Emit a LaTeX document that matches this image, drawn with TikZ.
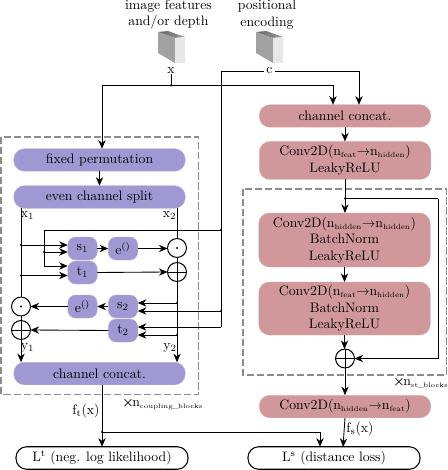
\documentclass[tikz,border=0pt]{standalone}
\usepackage{amsmath}
\usetikzlibrary{arrows.meta}
\definecolor{pur}{RGB}{160,152,210}
\definecolor{pnk}{RGB}{208,152,155}
\newcommand{\sbs}[1]{$_{\mbox{\fontsize{5.6}{6}\selectfont #1}}$}
\newcommand{\sbb}[1]{$_{\mbox{\fontsize{4.9}{6}\selectfont #1}}$}
\newcommand{\sbn}[1]{$_{\mbox{\fontsize{7.2}{7}\selectfont #1}}$}
\newcommand{\sps}[1]{$^{\mbox{\fontsize{7.2}{7}\selectfont #1}}$}
\newcommand{\toarrow}{$\rightarrow$}
\newcommand{\tus}{\kern-0.4pt\_\kern-0.4pt}
\tikzset{
  x=0.75pt,y=-0.75pt,
  every node/.style={font=\fontsize{10.3}{12.5}\selectfont},
  sz/.style 2 args={minimum width=#1*0.75pt,minimum height=#2*0.75pt,inner sep=0pt,outer sep=0pt},
  pill/.style={rectangle,rounded corners=8pt,sz={171.5}{22.5},align=center},
  purp/.style={pill,fill=pur,draw=pur!80!white,line width=0.3pt},
  pink/.style={pill,fill=pnk,draw=pnk!80!white,line width=0.3pt},
  small/.style={rectangle,rounded corners=6pt,fill=pur,draw=pur!80!white,line width=0.3pt,sz={29.5}{23}},
  loss/.style={rectangle,rounded corners=8pt,draw=black,line width=0.8pt,sz={172}{22.5}},
  lbl/.style={inner sep=0pt,outer sep=0pt},
  wire/.style={line width=0.65pt,draw=black},
  arr/.style={wire,-{Stealth[length=6.5pt,width=5.5pt]}},
  dashbox/.style={draw=black!45,line width=1.15pt,dash pattern=on 5.5pt off 2pt},
  jd/.style={circle,fill=black,inner sep=0pt,minimum size=1.8pt,outer sep=0pt},
  opc/.style={circle,draw=black,line width=0.75pt,fill=white,inner sep=0pt,minimum size=14.2pt,outer sep=0pt},
  oplus/.style={opc,path picture={\draw[line width=0.6pt] (path picture bounding box.north)--(path picture bounding box.south) (path picture bounding box.west)--(path picture bounding box.east);}},
  odot/.style={opc,path picture={\fill[black] (path picture bounding box.center) circle (0.9pt);}},
}
\newcommand{\cube}[2]{%
  \shade[left color=black!60,right color=black!40] (#1,#2) -- (#1+10,#2-1) -- (#1+27,#2+5) -- (#1+17,#2+6) -- cycle;
  \fill[black!37] (#1,#2) -- (#1+17,#2+6) -- (#1+17,#2+31) -- (#1,#2+21) -- cycle;
  \fill[black!9] (#1+17,#2+6) -- (#1+27,#2+5) -- (#1+27,#2+31) -- (#1+17,#2+31) -- cycle;
}
\begin{document}
\begin{tikzpicture}
\useasboundingbox (0,0) rectangle (447,470);
% dashed frames
\draw[dashbox] (1,137) rectangle (198.5,394.5);
\draw[dashbox] (243,189) rectangle (446.5,375);
% inputs
\node[lbl,align=center] (imf) at (168.5,14.5) {image features\\and/or depth};
\node[lbl,align=center] (pos) at (267,14.5) {positional\\encoding};
\cube{158}{32}
\cube{256}{32}
\node[lbl] (xin) at (171,71) {x};
\node[lbl] (cin) at (269.5,71) {c};
% purple blocks
\node[purp] (perm) at (99.5,160) {fixed permutation};
\node[purp] (split) at (99.5,197) {even channel split};
\node[purp] (cc1) at (99.5,373.5) {channel concat.};
\node[small] (s1) at (82.5,248.5) {s\sbn{1}};
\node[small] (t1) at (82.5,272.5) {t\sbn{1}};
\node[small] (e1) at (123,248.5) {e\sps{()}};
\node[small] (e2) at (82.5,306.5) {e\sps{()}};
\node[small] (s2) at (123,306.5) {s\sbn{2}};
\node[small] (t2) at (123,330.5) {t\sbn{2}};
\node[odot] (od1) at (177,248) {};
\node[oplus] (op1) at (177,272) {};
\node[odot] (od2) at (21,306.5) {};
\node[oplus] (op2) at (21,330) {};
% pink blocks
\node[pink] (cc2) at (345,116) {channel concat.};
\node[pink,sz={171.5}{38}] (cv1) at (345,160.5) {Conv2D(n\sbs{feat}\toarrow n\sbs{hidden})\\LeakyReLU};
\node[pink,sz={171.5}{54}] (cv2) at (344.5,240) {Conv2D(n\sbs{hidden}\toarrow n\sbs{hidden})\\BatchNorm\\LeakyReLU};
\node[pink,sz={171.5}{53}] (cv3) at (344.5,308.5) {Conv2D(n\sbs{feat}\toarrow n\sbs{hidden})\\BatchNorm\\LeakyReLU};
\node[oplus] (op3) at (345,358.5) {};
\node[pink] (cv4) at (345,406.5) {Conv2D(n\sbs{hidden}\toarrow n\sbs{feat})};
% losses
\node[loss] (lt) at (102,458) {L\sps{t} (neg. log likelihood)};
\node[loss] (ls) at (334,458) {L\sps{s} (distance loss)};
% junctions
\node[jd] (jx) at (171,85.5) {};
\node[jd] (ja) at (21,245) {};
\node[jd] (jb) at (21,275.5) {};
\node[jd] (jc) at (44,252) {};
\node[jd] (jd1) at (221,230) {};
\node[jd] (je) at (221,311) {};
\node[jd] (jf) at (177,303) {};
\node[jd] (jg) at (177,335) {};
\node[jd] (jh) at (102,432) {};
\node[jd] (ji) at (345,198.5) {};
\coordinate (cl) at (44,266);
\coordinate (tg) at (221,327);
\coordinate (rt) at (438,198.5);
% connectors: inputs
\draw[wire] (xin.south) -- (jx.center);
\draw[arr] (jx.center) -- (102,85.5) -- (perm.north -| 102,0);
\draw[arr] (jx.center) -- (333,85.5) -- (cc2.north -| 333,0);
\draw[arr] (cin.east) ++(2,0) -- (359,71) -- (cc2.north -| 359,0);
\draw[wire] (cin.west) ++(-2,0) -- (221,71) -- (tg);
% connectors: left column
\draw[arr] (perm) -- (split);
\draw[wire] (split.south -| ja) -- (od2.north);
\draw[wire] (split.south -| od1) -- (od1.north);
\draw[wire] (od1) -- (op1);
\draw[wire] (od2) -- (op2);
\draw[arr] (ja.center) -- (ja -| s1.west);
\draw[arr] (jb.center) -- (jb -| t1.west);
\draw[wire] (jd1.center) -- (44,230) -- (cl);
\draw[arr] (jc.center) -- (jc -| s1.west);
\draw[arr] (cl) -- (cl -| t1.west);
\draw[arr] (s1) -- (e1);
\draw[arr] (e1) -- (e1 -| od1.west);
\draw[arr] (t1.east) -- (op1.west);
\draw[arr] (op1.south) -- (cc1.north -| op1);
\draw[arr] (jf.center) -- (jf -| s2.east);
\draw[arr] (je.center) -- (je -| s2.east);
\draw[arr] (tg) -- (tg -| t2.east);
\draw[arr] (jg.center) -- (jg -| t2.east);
\draw[arr] (s2) -- (e2);
\draw[arr] (e2) -- (od2.east);
\draw[arr] (t2.west) -- (op2.east);
\draw[arr] (op2.south) -- (cc1.north -| op2);
\draw[arr] (cc1.south -| jh) -- (lt.north -| jh);
\draw[arr] (jh.center) -- (320,432) -- (ls.north -| 320,0);
% connectors: right column
\draw[arr] (cc2.south) -- (cv1.north);
\draw[arr] (cv1.south) -- (cv2.north -| cv1);
\draw[arr] (cv2.south) -- (cv3.north);
\draw[arr] (cv3.south) -- (op3.north -| cv3);
\draw[wire] (ji.center) -- (rt);
\draw[arr] (rt) -- (438,358.5) -- (op3.east);
\draw[arr] (op3.south) -- (cv4.north -| op3);
\draw[arr] (cv4.south) -- (343,447);
% labels
\node[lbl] (lx1) at (27.5,215.5) {x\sbn{1}};
\node[lbl] (lx2) at (169.5,215.5) {x\sbn{2}};
\node[lbl] (ly1) at (27.5,348) {y\sbn{1}};
\node[lbl] (ly2) at (170,348) {y\sbn{2}};
\node[lbl] (lft) at (86,411) {f\sbn{t}(x)};
\node[lbl] (lfs) at (360,429) {f\sbn{s}(x)};
\node[lbl,anchor=west] (nc) at (122,404) {$\boldsymbol{\times}$\kern-1.2pt n\sbb{coupling\tus blocks}};
\node[lbl,anchor=west] (ns) at (393,383) {$\boldsymbol{\times}$\kern-1.2pt n\sbb{st\tus blocks}};
\end{tikzpicture}
\end{document}
